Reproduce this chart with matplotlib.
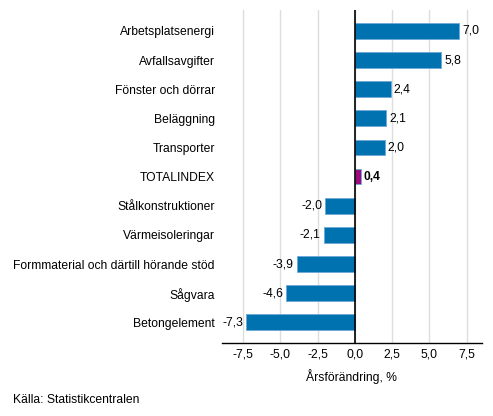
import matplotlib
matplotlib.use("Agg")
import matplotlib.pyplot as plt

plt.rcParams['font.family'] = ['Liberation Sans', 'DejaVu Sans']

categories = ["Arbetsplatsenergi", "Avfallsavgifter", "Fönster och dörrar", "Beläggning",
              "Transporter", "TOTALINDEX", "Stålkonstruktioner", "Värmeisoleringar",
              "Formmaterial och därtill hörande stöd", "Sågvara", "Betongelement"]
values = [7.0, 5.8, 2.4, 2.1, 2.0, 0.4, -2.0, -2.1, -3.9, -4.6, -7.3]
highlight = "TOTALINDEX"
xticks = [-7.5, -5.0, -2.5, 0.0, 2.5, 5.0, 7.5]
xlabel = "Årsförändring, %"
source = "Källa: Statistikcentralen"

def fmt(v):
    return f"{v:.1f}".replace(".", ",")

FS = 8.7
fig = plt.figure(figsize=(4.93, 4.16), dpi=100)
ax = fig.add_axes([0.4497, 0.1748, 0.5283, 0.8012])

n = len(categories)
ypos = list(range(n))
colors = ["#9C0A7E" if c == highlight else "#0072B0" for c in categories]
ax.barh(ypos, values, height=0.54, color=colors, edgecolor="#6FA8D6", linewidth=0.6, zorder=3)

ax.set_ylim(n - 1 + 0.72, -0.72)
ax.set_xlim(-8.95, 8.55)
ax.set_yticks(ypos)
ax.set_yticklabels(categories, fontsize=FS, color="#000000")
ax.set_xticks(xticks)
ax.set_xticklabels([fmt(t) for t in xticks], fontsize=FS)
ax.tick_params(axis='both', length=0, pad=4)
ax.tick_params(axis='y', pad=5)
ax.grid(axis='x', color="#DDDDDD", linewidth=1, zorder=0)
ax.axvline(0, color="black", linewidth=1.2, zorder=4)
for s in ["top", "right", "left"]:
    ax.spines[s].set_visible(False)
ax.spines["bottom"].set_color("black")
ax.spines["bottom"].set_linewidth(1)

for y, v, c in zip(ypos, values, categories):
    bold = "bold" if c == highlight else "normal"
    if v >= 0:
        ax.text(v + 0.2, y, fmt(v), va="center", ha="left", fontsize=FS, fontweight=bold, zorder=5)
    else:
        ax.text(v - 0.2, y, fmt(v), va="center", ha="right", fontsize=FS, fontweight=bold, zorder=5)

ax.set_xlabel(xlabel, fontsize=FS, labelpad=6)
fig.text(0.026, 0.038, source, fontsize=FS, ha="left", va="center")

fig.savefig("out.png", dpi=100)
